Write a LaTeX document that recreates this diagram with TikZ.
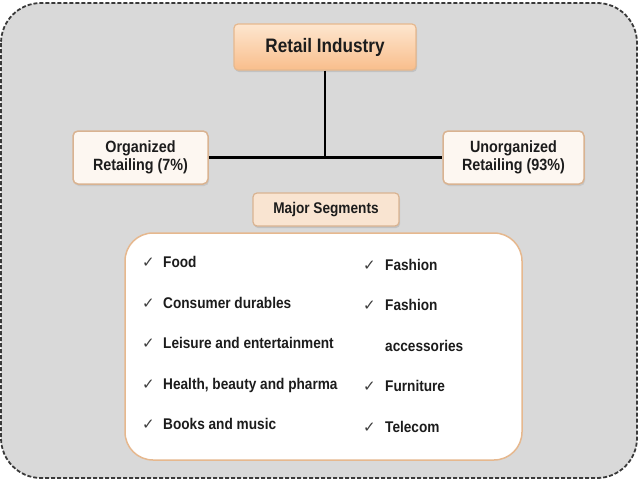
\documentclass[tikz,border=0pt]{standalone}
\usepackage{fontspec}
\setmainfont[FakeStretch=0.88]{Liberation Sans}
\newfontfamily\symfont{DejaVu Sans}
\usepackage{tikz}
\usetikzlibrary{positioning,shadows}
\definecolor{frameGray} {HTML}{D9D9D9}
\definecolor{frameDash} {HTML}{3A3A3A}
\definecolor{peachTop}  {HTML}{FDE6CF}
\definecolor{peachBot}  {HTML}{F9BE8C}
\definecolor{peachLine} {HTML}{E6B88E}
\definecolor{creamFill} {HTML}{FDF7F1}
\definecolor{tanLine}   {HTML}{D9B391}
\definecolor{segFill}   {HTML}{F9E4D1}
\definecolor{inkDark}   {HTML}{1C1C1C}
\newcommand{\segtick}{{\symfont\fontsize{15}{15}\selectfont\color{inkDark!85}✓}}

\begin{document}
\begin{tikzpicture}[x=1pt, y=-1pt,
      headbox/.style={draw=peachLine, line width=1.2pt, rounded corners=4pt,
                  top color=peachTop, bottom color=peachBot,
                  minimum width=182pt, minimum height=46pt, inner sep=0pt,
                  font=\bfseries\fontsize{19.5}{21}\selectfont, text=inkDark,
                  drop shadow={opacity=0.25, shadow xshift=1pt, shadow yshift=-2pt}},
      share/.style={draw=tanLine, line width=1.5pt, rounded corners=5pt,
                    fill=creamFill, minimum height=53pt, inner sep=0pt,
                    align=center, text=inkDark,
                    font=\bfseries\fontsize{16.3}{18}\selectfont,
                    drop shadow={opacity=0.2, shadow xshift=1pt, shadow yshift=-2pt}},
      seghead/.style={draw=tanLine, line width=1.2pt, rounded corners=4pt,
                      fill=segFill, minimum width=146pt, minimum height=33pt,
                      inner sep=0pt, text=inkDark,
                      font=\bfseries\fontsize{15.5}{17}\selectfont,
                      drop shadow={opacity=0.25, shadow xshift=1pt, shadow yshift=-2pt}},
      seglist/.style={draw=peachLine, line width=1.5pt, rounded corners=28pt,
                      fill=white, minimum width=397pt, minimum height=227pt},
      item/.style={anchor=base west, inner sep=0pt, text=inkDark,
                   font=\bfseries\fontsize{15.5}{17}\selectfont},
      link/.style={draw=black, line width=2.6pt}]
    \fill[white] (0,0) rectangle (638,479);
    \useasboundingbox (0,0) rectangle (638,479);
    \draw[draw=frameDash, fill=frameGray, line width=1.8pt, rounded corners=40pt,
          dash pattern=on 4pt off 2pt] (1,3) rectangle (637,478);

    \node[headbox] (retail) at (325,47) {Retail Industry};
    \node[share, minimum width=135pt] (org) at (140.5,157.5) {Organized\\Retailing (7\%)};
    \node[share, minimum width=141pt] (unorg) at (513.5,157.5) {Unorganized\\Retailing (93\%)};
    \draw[link] (retail.south) -- (retail.south |- org.east);
    \draw[link] (org.east) -- (unorg.west);

    \node[seghead] (major) at (326,209.5) {Major Segments};
    \node[seglist] (segs) at (323.5,346.5) {};

    % left column
    \foreach \txt/\yy [count=\i] in {Food/267, Consumer durables/308,
        Leisure and entertainment/348, {Health, beauty and pharma}/389,
        Books and music/429} {
      \node[item] (tickL\i) at (142,\yy) {\segtick};
      \node[item] (segL\i) at (163,\yy) {\txt};
    }
    % right column
    \foreach \txt/\yy [count=\i] in {Fashion/270, Fashion/310.5,
        Furniture/391.5, Telecom/432} {
      \node[item] (tickR\i) at (363,\yy) {\segtick};
      \node[item] (segR\i) at (385,\yy) {\txt};
    }
    \node[item] (segAcc) at (385,351) {accessories};
  \end{tikzpicture}
\end{document}
